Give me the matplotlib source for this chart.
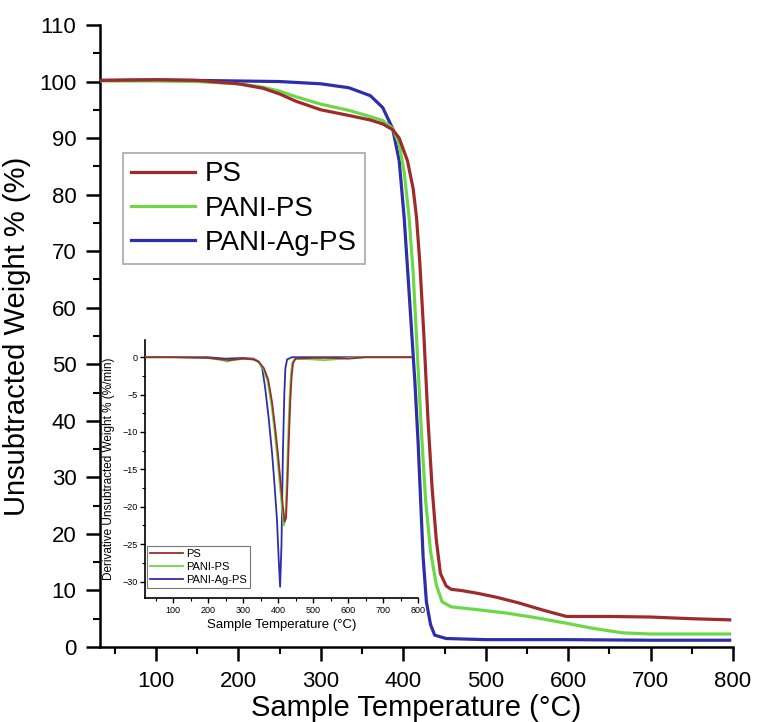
import matplotlib
matplotlib.use("Agg")
import matplotlib.pyplot as plt
from matplotlib.ticker import MultipleLocator

plt.rcParams['font.family'] = ['Liberation Sans', 'DejaVu Sans']

# ---------------- data ----------------
labels = ["PS", "PANI-PS", "PANI-Ag-PS"]
colors = ["#9E2B2B", "#6CD848", "#2E2EAA"]

# Main TGA curves (temperature °C, weight %)
ps_T = [32, 100, 150, 200, 230, 250, 270, 300, 334, 360, 375, 387, 395, 405, 412, 416,
        420, 425, 430, 435, 440, 445, 452, 458, 470, 490, 513, 540, 570, 598, 650, 700, 750, 796]
ps_W = [100.2, 100.3, 100.2, 99.6, 98.8, 97.8, 96.5, 95.0, 94.0, 93.2, 92.5, 91.5, 90.0, 86.0, 81.0, 76.0,
        68.0, 55.0, 40.0, 28.0, 19.0, 13.0, 10.8, 10.2, 10.0, 9.5, 8.8, 7.8, 6.5, 5.4, 5.4, 5.3, 5.0, 4.8]

pani_T = [32, 100, 150, 200, 230, 250, 270, 300, 334, 360, 375, 387, 395, 401, 407, 412,
          417, 422, 427, 433, 440, 447, 458, 490, 525, 560, 598, 630, 666, 700, 750, 796]
pani_W = [100.1, 100.1, 100.0, 99.6, 99.0, 98.3, 97.3, 96.0, 94.9, 93.8, 93.1, 91.7, 89.0, 84.0, 76.0, 66.0,
          52.0, 38.0, 26.0, 17.0, 11.0, 8.0, 7.1, 6.6, 6.0, 5.2, 4.2, 3.3, 2.5, 2.3, 2.3, 2.3]

ag_T = [32, 100, 200, 250, 300, 334, 360, 375, 387, 395, 401, 406, 410, 414, 418, 421,
        424, 428, 433, 438, 452, 500, 600, 700, 796]
ag_W = [100.2, 100.3, 100.1, 100.0, 99.6, 98.9, 97.5, 95.4, 91.7, 86.0, 76.0, 65.0, 56.0, 47.0, 36.0, 26.0,
        16.0, 8.0, 4.0, 2.1, 1.5, 1.3, 1.3, 1.2, 1.2]

# Inset DTG curves (temperature °C, derivative %/min)
dps_T = [20, 100, 200, 240, 260, 280, 300, 330, 345, 360, 372, 383, 392, 400, 408, 414, 419,
         423, 427, 431, 435, 439, 443, 450, 500, 550, 600, 650, 780]
dps_D = [0, 0, -0.1, -0.3, -0.4, -0.3, -0.2, -0.3, -0.6, -1.5, -3.0, -6.0, -9.5, -13.0, -17.0, -20.0, -22.0,
         -21.5, -17.0, -11.0, -6.0, -2.5, -0.8, -0.2, -0.1, -0.1, -0.2, 0, 0]

dpani_T = [20, 100, 200, 240, 255, 270, 300, 330, 345, 358, 370, 381, 390, 398, 406, 412, 417,
           421, 425, 429, 433, 437, 441, 448, 500, 530, 560, 600, 650, 780]
dpani_D = [0, 0, -0.1, -0.4, -0.6, -0.4, -0.2, -0.3, -0.7, -1.6, -3.2, -6.3, -9.8, -13.5, -17.5, -20.5, -22.5,
           -21.5, -16.5, -10.5, -5.5, -2.2, -0.7, -0.2, -0.3, -0.4, -0.3, -0.1, 0, 0]

dag_T = [20, 100, 200, 250, 300, 330, 345, 355, 363, 373, 383, 390, 397, 402, 406, 410, 414,
         418, 421, 426, 440, 780]
dag_D = [0, 0, 0, -0.2, -0.1, -0.2, -0.6, -1.5, -4.0, -8.0, -12.8, -17.0, -21.7, -27.0, -30.7, -25.0, -12.8,
         -5.0, -1.5, -0.3, 0, 0]

main_series = [(ps_T, ps_W), (pani_T, pani_W), (ag_T, ag_W)]
dtg_series = [(dps_T, dps_D), (dpani_T, dpani_D), (dag_T, dag_D)]

# ---------------- figure ----------------
W, H = 757, 722
fig = plt.figure(figsize=(W / 100, H / 100), dpi=100)

def rect(x0, y0, x1, y1):
    return [x0 / W, 1 - y1 / H, (x1 - x0) / W, (y1 - y0) / H]

ax = fig.add_axes(rect(100, 25, 733, 647))
handles = []
for (t, w), lab, c, z in zip(main_series, labels, colors, [4, 3, 2]):
    h, = ax.plot(t, w, color=c, lw=2.3, label=lab, zorder=z)
    handles.append(h)

ax.set_xlim(32, 800)
ax.set_ylim(0, 110)
ax.xaxis.set_major_locator(MultipleLocator(100))
ax.xaxis.set_minor_locator(MultipleLocator(50))
ax.yaxis.set_major_locator(MultipleLocator(10))
ax.yaxis.set_minor_locator(MultipleLocator(5))
for s in ["top", "right"]:
    ax.spines[s].set_visible(False)
for s in ["left", "bottom"]:
    ax.spines[s].set_linewidth(1.8)
ax.tick_params(which="major", direction="out", length=10, width=1.8, labelsize=16, pad=7)
ax.tick_params(which="minor", direction="out", length=5, width=1.5)
ax.set_xlabel("Sample Temperature (°C)", fontsize=21, labelpad=2)
ax.set_ylabel("Unsubtracted Weight % (%)", fontsize=21, labelpad=6)

leg = ax.legend(handles=handles, loc="upper left",
                bbox_to_anchor=(123 / W, 1 - 153 / H), bbox_transform=fig.transFigure,
                fontsize=20, frameon=True, fancybox=False, edgecolor="#9a9a9a",
                handlelength=2.3, handletextpad=0.35, labelspacing=0.3, borderpad=0.3,
                borderaxespad=0)
leg.get_frame().set_linewidth(1.3)

# ---------------- inset ----------------
ins = fig.add_axes(rect(145, 340, 418, 598))
ins.patch.set_alpha(0)
ih = []
for (t, d), lab, c, z in zip(dtg_series, labels, colors, [4, 3, 2]):
    h, = ins.plot(t, d, color=c, lw=1.3, label=lab, zorder=z)
    ih.append(h)
ins.set_xlim(20, 800)
ins.set_ylim(-32.2, 2.3)
ins.xaxis.set_major_locator(MultipleLocator(100))
ins.xaxis.set_minor_locator(MultipleLocator(50))
ins.yaxis.set_major_locator(MultipleLocator(5))
ins.yaxis.set_minor_locator(MultipleLocator(2.5))
for s in ["top", "right"]:
    ins.spines[s].set_visible(False)
for s in ["left", "bottom"]:
    ins.spines[s].set_linewidth(1.2)
ins.tick_params(which="major", direction="out", length=3.5, width=1.0, labelsize=6.5, pad=2)
ins.tick_params(which="minor", direction="out", length=2, width=0.8)
ins.set_xlabel("Sample Temperature (°C)", fontsize=9.5, labelpad=3)
ins.set_ylabel("Derivative Unsubtracted Weight % (%/min)", fontsize=8.5)
ins.yaxis.set_label_coords((115 - 145) / (418 - 145), 0.5)

ileg = ins.legend(handles=ih, loc="lower left", bbox_to_anchor=(147 / W, 1 - 588 / H),
                  bbox_transform=fig.transFigure, fontsize=8, frameon=True, fancybox=False,
                  edgecolor="#555555", handlelength=3.0, handletextpad=0.3, labelspacing=0.3,
                  borderpad=0.25, borderaxespad=0)
ileg.get_frame().set_linewidth(0.8)

fig.savefig("out.png", dpi=100)
